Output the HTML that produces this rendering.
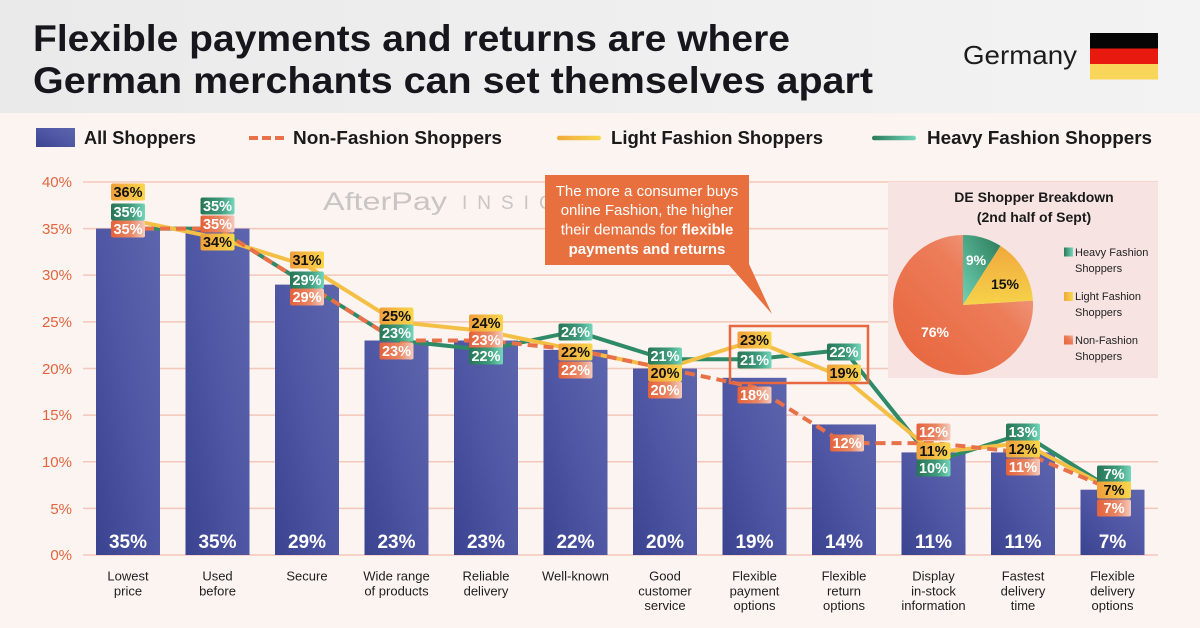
<!DOCTYPE html>
<html><head><meta charset="utf-8"><style>
html,body{margin:0;padding:0;width:1200px;height:628px;overflow:hidden;background:#fcf4f1}
svg{display:block}
text{font-family:"Liberation Sans",sans-serif}
.lb{font-weight:bold;font-size:14.5px;text-anchor:middle}
.w{fill:#fff}.k{fill:#111}
.yl{font-size:15px;fill:#e2653f;text-anchor:end}
.xl{font-size:13px;fill:#1e1e1e;text-anchor:middle}
.bv{font-size:19px;font-weight:bold;fill:#fff;text-anchor:middle}
.pl{font-size:11px;fill:#222}
</style></head><body>
<svg width="1200" height="628" viewBox="0 0 1200 628" xmlns="http://www.w3.org/2000/svg">
<defs>
<linearGradient id="hdr" x1="0" y1="0" x2="1" y2="0"><stop offset="0" stop-color="#eaeaea"/><stop offset="1" stop-color="#f3f3f3"/></linearGradient>
<linearGradient id="bar" x1="0" y1="1" x2="1" y2="0"><stop offset="0" stop-color="#3a4390"/><stop offset="0.5" stop-color="#4f57a4"/><stop offset="1" stop-color="#5d65ae"/></linearGradient>
<linearGradient id="gY" x1="0" y1="0" x2="1" y2="0"><stop offset="0" stop-color="#ef9f3a"/><stop offset="1" stop-color="#f9d64c"/></linearGradient>
<linearGradient id="gG" x1="0" y1="0" x2="1" y2="0"><stop offset="0" stop-color="#287556"/><stop offset="0.6" stop-color="#3f9c7c"/><stop offset="1" stop-color="#74d6bb"/></linearGradient>
<linearGradient id="gO" x1="0" y1="0" x2="1" y2="0"><stop offset="0" stop-color="#e4613a"/><stop offset="0.6" stop-color="#ea8866"/><stop offset="1" stop-color="#f4cbbd"/></linearGradient>
<linearGradient id="pO" x1="0" y1="1" x2="1" y2="0"><stop offset="0" stop-color="#e7633a"/><stop offset="0.6" stop-color="#ec7c58"/><stop offset="1" stop-color="#f1b3a0"/></linearGradient>
<linearGradient id="pY" x1="0" y1="0" x2="0" y2="1"><stop offset="0" stop-color="#f0a83c"/><stop offset="1" stop-color="#f6d24a"/></linearGradient>
<linearGradient id="pG" x1="1" y1="0" x2="0" y2="1"><stop offset="0" stop-color="#2a7a58"/><stop offset="1" stop-color="#6fd3b5"/></linearGradient>
<linearGradient id="lgG" x1="0" y1="0" x2="1" y2="0"><stop offset="0" stop-color="#2a7a58"/><stop offset="1" stop-color="#74d6bb"/></linearGradient>
<linearGradient id="lgY" x1="0" y1="0" x2="1" y2="0"><stop offset="0" stop-color="#f0a83c"/><stop offset="1" stop-color="#f8d84e"/></linearGradient>
</defs>

<!-- header -->
<rect x="0" y="0" width="1200" height="113" fill="url(#hdr)"/>
<rect x="0" y="113" width="1200" height="515" fill="#fcf4f1"/>
<text x="33" y="51" font-size="37" font-weight="bold" fill="#16161c" textLength="757" lengthAdjust="spacingAndGlyphs">Flexible payments and returns are where</text>
<text x="33" y="93" font-size="37" font-weight="bold" fill="#16161c" textLength="840" lengthAdjust="spacingAndGlyphs">German merchants can set themselves apart</text>
<text x="963" y="64" font-size="26" fill="#1c1c1c" textLength="114" lengthAdjust="spacingAndGlyphs">Germany</text>
<rect x="1090" y="33" width="68" height="15.5" fill="#050505"/>
<rect x="1090" y="48.5" width="68" height="15.5" fill="#e8190f"/>
<rect x="1090" y="64" width="68" height="15.5" fill="#f9d55a"/>

<!-- legend -->
<rect x="36" y="128" width="39" height="19" fill="url(#bar)"/>
<text x="84" y="144" font-size="18" font-weight="bold" fill="#1a1a1a" textLength="112" lengthAdjust="spacingAndGlyphs">All Shoppers</text>
<line x1="249" y1="138" x2="284" y2="138" stroke="#e8714a" stroke-width="4" stroke-dasharray="9,4"/>
<text x="293" y="144" font-size="18" font-weight="bold" fill="#1a1a1a" textLength="209" lengthAdjust="spacingAndGlyphs">Non-Fashion Shoppers</text>
<rect x="557" y="135.75" width="44" height="4.5" rx="2.25" fill="url(#lgY)"/>
<text x="611" y="144" font-size="18" font-weight="bold" fill="#1a1a1a" textLength="212" lengthAdjust="spacingAndGlyphs">Light Fashion Shoppers</text>
<rect x="872" y="135.75" width="44" height="4.5" rx="2.25" fill="url(#lgG)"/>
<text x="927" y="144" font-size="18" font-weight="bold" fill="#1a1a1a" textLength="225" lengthAdjust="spacingAndGlyphs">Heavy Fashion Shoppers</text>

<!-- grid -->
<g stroke="#f3c7ba" stroke-width="1.5">
<line x1="83" y1="182" x2="1158" y2="182"/>
<line x1="83" y1="228.6" x2="1158" y2="228.6"/>
<line x1="83" y1="275.1" x2="1158" y2="275.1"/>
<line x1="83" y1="321.9" x2="1158" y2="321.9"/>
<line x1="83" y1="368.5" x2="1158" y2="368.5"/>
<line x1="83" y1="415.1" x2="1158" y2="415.1"/>
<line x1="83" y1="461.75" x2="1158" y2="461.75"/>
<line x1="83" y1="508.4" x2="1158" y2="508.4"/>
<line x1="83" y1="555" x2="1158" y2="555"/>
</g>
<text class="yl" x="72" y="187">40%</text>
<text class="yl" x="72" y="234">35%</text>
<text class="yl" x="72" y="280">30%</text>
<text class="yl" x="72" y="327">25%</text>
<text class="yl" x="72" y="374">20%</text>
<text class="yl" x="72" y="420">15%</text>
<text class="yl" x="72" y="467">10%</text>
<text class="yl" x="72" y="514">5%</text>
<text class="yl" x="72" y="560">0%</text>

<!-- watermark -->
<text x="323" y="210" font-size="25" fill="#c9c5c3" textLength="124" lengthAdjust="spacingAndGlyphs">AfterPay</text>
<text x="462" y="209" font-size="19" fill="#c9c5c3" letter-spacing="10">INSIGHTS</text>

<!-- pie box -->
<rect x="888" y="182" width="270" height="196" fill="#f7e3e1"/>
<text x="1034" y="202" font-size="14" font-weight="bold" fill="#1a1a1a" text-anchor="middle">DE Shopper Breakdown</text>
<text x="1034" y="222" font-size="14" font-weight="bold" fill="#1a1a1a" text-anchor="middle">(2nd half of Sept)</text>
<path d="M963,305 L1032.9,300.6 A70,70 0 1 1 963,235 Z" fill="url(#pO)"/>
<path d="M963,305 L963,235 A70,70 0 0 1 1000.5,245.9 Z" fill="url(#pG)"/>
<path d="M963,305 L1000.5,245.9 A70,70 0 0 1 1032.9,300.6 Z" fill="url(#pY)"/>
<text x="976" y="265" font-size="14" font-weight="bold" fill="#fff" text-anchor="middle">9%</text>
<text x="1005" y="289" font-size="14" font-weight="bold" fill="#111" text-anchor="middle">15%</text>
<text x="935" y="337" font-size="14" font-weight="bold" fill="#fff" text-anchor="middle">76%</text>
<rect x="1064" y="247.5" width="9" height="9" fill="url(#lgG)"/>
<text class="pl" x="1075" y="256">Heavy Fashion</text>
<text class="pl" x="1075" y="272">Shoppers</text>
<rect x="1064" y="292" width="9" height="9" fill="url(#lgY)"/>
<text class="pl" x="1075" y="300">Light Fashion</text>
<text class="pl" x="1075" y="316">Shoppers</text>
<rect x="1064" y="335.5" width="9" height="9" fill="url(#pO)"/>
<text class="pl" x="1075" y="344">Non-Fashion</text>
<text class="pl" x="1075" y="360">Shoppers</text>

<!-- bars -->
<g fill="url(#bar)">
<rect x="96" y="228.6" width="64" height="326.4"/>
<rect x="185.5" y="228.6" width="64" height="326.4"/>
<rect x="275" y="284.6" width="64" height="270.4"/>
<rect x="364.5" y="340.5" width="64" height="214.5"/>
<rect x="454" y="340.5" width="64" height="214.5"/>
<rect x="543.5" y="349.85" width="64" height="205.15"/>
<rect x="633" y="368.5" width="64" height="186.5"/>
<rect x="722.5" y="377.8" width="64" height="177.2"/>
<rect x="812" y="424.45" width="64" height="130.55"/>
<rect x="901.5" y="452.4" width="64" height="102.6"/>
<rect x="991" y="452.4" width="64" height="102.6"/>
<rect x="1080.5" y="489.7" width="64" height="65.3"/>
</g>
<text class="bv" x="128" y="548">35%</text>
<text class="bv" x="217.5" y="548">35%</text>
<text class="bv" x="307" y="548">29%</text>
<text class="bv" x="396.5" y="548">23%</text>
<text class="bv" x="486" y="548">23%</text>
<text class="bv" x="575.5" y="548">22%</text>
<text class="bv" x="665" y="548">20%</text>
<text class="bv" x="754.5" y="548">19%</text>
<text class="bv" x="844" y="548">14%</text>
<text class="bv" x="933.5" y="548">11%</text>
<text class="bv" x="1023" y="548">11%</text>
<text class="bv" x="1112.5" y="548">7%</text>

<!-- x labels -->
<g class="xl">
<text class="xl" x="128" y="580.5">Lowest</text><text class="xl" x="128" y="595.5">price</text>
<text class="xl" x="217.5" y="580.5">Used</text><text class="xl" x="217.5" y="595.5">before</text>
<text class="xl" x="307" y="580.5">Secure</text>
<text class="xl" x="396.5" y="580.5">Wide range</text><text class="xl" x="396.5" y="595.5">of products</text>
<text class="xl" x="486" y="580.5">Reliable</text><text class="xl" x="486" y="595.5">delivery</text>
<text class="xl" x="575.5" y="580.5">Well-known</text>
<text class="xl" x="665" y="580.5">Good</text><text class="xl" x="665" y="595.5">customer</text><text class="xl" x="665" y="610">service</text>
<text class="xl" x="754.5" y="580.5">Flexible</text><text class="xl" x="754.5" y="595.5">payment</text><text class="xl" x="754.5" y="610">options</text>
<text class="xl" x="844" y="580.5">Flexible</text><text class="xl" x="844" y="595.5">return</text><text class="xl" x="844" y="610">options</text>
<text class="xl" x="933.5" y="580.5">Display</text><text class="xl" x="933.5" y="595.5">in-stock</text><text class="xl" x="933.5" y="610">information</text>
<text class="xl" x="1023" y="580.5">Fastest</text><text class="xl" x="1023" y="595.5">delivery</text><text class="xl" x="1023" y="610">time</text>
<text class="xl" x="1112.5" y="580.5">Flexible</text><text class="xl" x="1112.5" y="595.5">delivery</text><text class="xl" x="1112.5" y="610">options</text>
</g>

<!-- lines -->
<polyline fill="none" stroke="#2f8a68" stroke-width="4" stroke-linejoin="round" points="128,228.6 217.5,228.6 307,284.6 396.5,340.5 486,349.85 575.5,331.2 665,359.2 754.5,359.2 844,349.85 933.5,461.75 1023,433.8 1112.5,489.7"/>
<polyline fill="none" stroke="#f4bf45" stroke-width="4" stroke-linejoin="round" points="128,219.3 217.5,237.95 307,265.9 396.5,321.9 486,331.2 575.5,349.85 665,368.5 754.5,340.5 844,377.8 933.5,452.4 1023,443.1 1112.5,489.7"/>
<polyline fill="none" stroke="#e8714a" stroke-width="4" stroke-dasharray="10,6" points="128,228.6 217.5,228.6 307,284.6 396.5,340.5 486,340.5 575.5,349.85 665,368.5 754.5,387.15 844,443.1 933.5,443.1 1023,452.4 1112.5,489.7"/>

<!-- highlight rect -->
<rect x="730" y="326" width="138" height="57" fill="none" stroke="#e8673e" stroke-width="2.5"/>

<!-- annotation -->
<path d="M728,264 L749,264 L772,314 Z" fill="#e8703f"/>
<rect x="545" y="175" width="204" height="90" fill="#e8703f"/>
<g font-size="15" fill="#fff" text-anchor="middle">
<text x="647" y="196">The more a consumer buys</text>
<text x="647" y="215">online Fashion, the higher</text>
<text x="647" y="234.5">their demands for <tspan font-weight="bold">flexible</tspan></text>
<text x="647" y="254" font-weight="bold">payments and returns</text>
</g>

<!-- data labels -->
<g id="labels">
<rect x="111" y="183.5" width="34" height="17" rx="2" fill="url(#gY)"/><text class="lb k" x="128" y="197">36%</text>
<rect x="111" y="203.5" width="34" height="17" rx="2" fill="url(#gG)"/><text class="lb w" x="128" y="217">35%</text>
<rect x="111" y="220.5" width="34" height="17" rx="2" fill="url(#gO)"/><text class="lb w" x="128" y="234">35%</text>
<rect x="200.5" y="197.5" width="34" height="17" rx="2" fill="url(#gG)"/><text class="lb w" x="217.5" y="211">35%</text>
<rect x="200.5" y="215.5" width="34" height="17" rx="2" fill="url(#gO)"/><text class="lb w" x="217.5" y="229">35%</text>
<rect x="200.5" y="233.5" width="34" height="17" rx="2" fill="url(#gY)"/><text class="lb k" x="217.5" y="247">34%</text>
<rect x="290" y="251.5" width="34" height="17" rx="2" fill="url(#gY)"/><text class="lb k" x="307" y="265">31%</text>
<rect x="290" y="271.5" width="34" height="17" rx="2" fill="url(#gG)"/><text class="lb w" x="307" y="285">29%</text>
<rect x="290" y="288.5" width="34" height="17" rx="2" fill="url(#gO)"/><text class="lb w" x="307" y="302">29%</text>
<rect x="379.5" y="307.5" width="34" height="17" rx="2" fill="url(#gY)"/><text class="lb k" x="396.5" y="321">25%</text>
<rect x="379.5" y="324.5" width="34" height="17" rx="2" fill="url(#gG)"/><text class="lb w" x="396.5" y="338">23%</text>
<rect x="379.5" y="342.5" width="34" height="17" rx="2" fill="url(#gO)"/><text class="lb w" x="396.5" y="356">23%</text>
<rect x="469" y="314.5" width="34" height="17" rx="2" fill="url(#gY)"/><text class="lb k" x="486" y="328">24%</text>
<rect x="469" y="331.5" width="34" height="17" rx="2" fill="url(#gO)"/><text class="lb w" x="486" y="345">23%</text>
<rect x="469" y="347.5" width="34" height="17" rx="2" fill="url(#gG)"/><text class="lb w" x="486" y="361">22%</text>
<rect x="558.5" y="323.5" width="34" height="17" rx="2" fill="url(#gG)"/><text class="lb w" x="575.5" y="337">24%</text>
<rect x="558.5" y="343.5" width="34" height="17" rx="2" fill="url(#gY)"/><text class="lb k" x="575.5" y="357">22%</text>
<rect x="558.5" y="361.5" width="34" height="17" rx="2" fill="url(#gO)"/><text class="lb w" x="575.5" y="375">22%</text>
<rect x="648" y="347.5" width="34" height="17" rx="2" fill="url(#gG)"/><text class="lb w" x="665" y="361">21%</text>
<rect x="648" y="364.5" width="34" height="17" rx="2" fill="url(#gY)"/><text class="lb k" x="665" y="378">20%</text>
<rect x="648" y="381.5" width="34" height="17" rx="2" fill="url(#gO)"/><text class="lb w" x="665" y="395">20%</text>
<rect x="737.5" y="331.5" width="34" height="17" rx="2" fill="url(#gY)"/><text class="lb k" x="754.5" y="345">23%</text>
<rect x="737.5" y="351.5" width="34" height="17" rx="2" fill="url(#gG)"/><text class="lb w" x="754.5" y="365">21%</text>
<rect x="737.5" y="386.5" width="34" height="17" rx="2" fill="url(#gO)"/><text class="lb w" x="754.5" y="400">18%</text>
<rect x="827" y="343.5" width="34" height="17" rx="2" fill="url(#gG)"/><text class="lb w" x="844" y="357">22%</text>
<rect x="827" y="364.5" width="34" height="17" rx="2" fill="url(#gY)"/><text class="lb k" x="844" y="378">19%</text>
<rect x="830" y="434.5" width="34" height="17" rx="2" fill="url(#gO)"/><text class="lb w" x="847" y="448">12%</text>
<rect x="916.5" y="423.5" width="34" height="17" rx="2" fill="url(#gO)"/><text class="lb w" x="933.5" y="437">12%</text>
<rect x="916.5" y="442.5" width="34" height="17" rx="2" fill="url(#gY)"/><text class="lb k" x="933.5" y="456">11%</text>
<rect x="916.5" y="459.5" width="34" height="17" rx="2" fill="url(#gG)"/><text class="lb w" x="933.5" y="473">10%</text>
<rect x="1006" y="423.5" width="34" height="17" rx="2" fill="url(#gG)"/><text class="lb w" x="1023" y="437">13%</text>
<rect x="1006" y="440.5" width="34" height="17" rx="2" fill="url(#gY)"/><text class="lb k" x="1023" y="454">12%</text>
<rect x="1006" y="458.5" width="34" height="17" rx="2" fill="url(#gO)"/><text class="lb w" x="1023" y="472">11%</text>
<rect x="1097" y="465.5" width="34" height="17" rx="2" fill="url(#gG)"/><text class="lb w" x="1114" y="479">7%</text>
<rect x="1097" y="481.5" width="34" height="17" rx="2" fill="url(#gY)"/><text class="lb k" x="1114" y="495">7%</text>
<rect x="1097" y="499.5" width="34" height="17" rx="2" fill="url(#gO)"/><text class="lb w" x="1114" y="513">7%</text>
</g>
</svg>
</body></html>
